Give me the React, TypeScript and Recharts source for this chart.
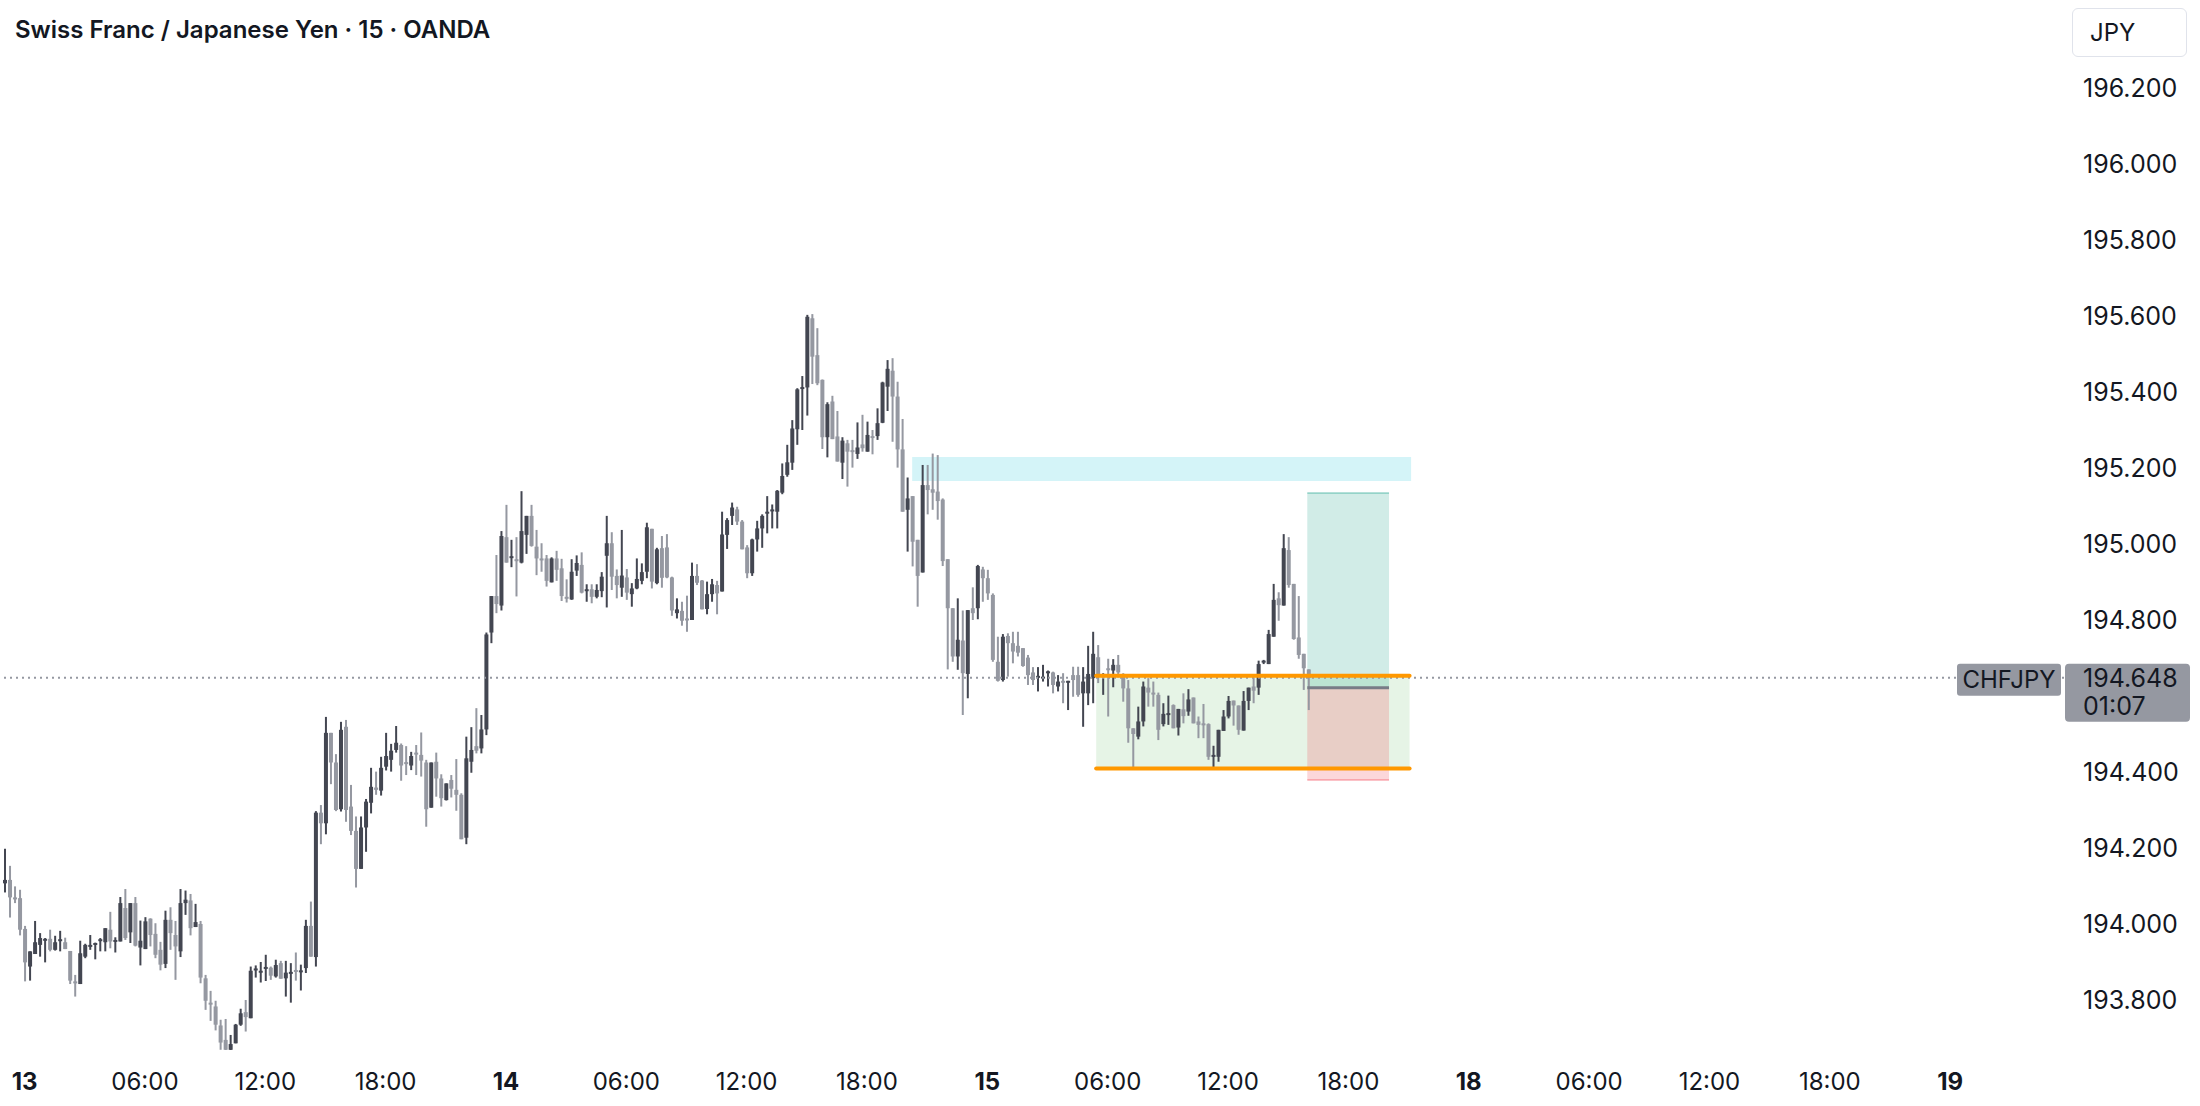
import React from "react";
import { ComposedChart, Bar, XAxis, YAxis, ReferenceArea, ReferenceLine } from "recharts";

// 15 min bars, t = 0 is 13 00:00, first visible bar is t = -4
const FIRST_BAR = -4;

const opens = [
  194.107, 194.116, 194.070, 194.068, 193.987, 193.888, 193.921, 193.945, 193.958, 193.961,
  193.932, 193.957, 193.952, 193.929, 193.849, 193.842, 193.914, 193.942, 193.946, 193.957,
  193.952, 193.985, 193.954, 193.954, 194.042, 193.978, 194.055, 193.938, 193.934, 194.014,
  193.974, 193.932, 193.895, 194.011, 193.971, 193.928, 194.055, 194.062, 193.992, 194.000,
  193.857, 193.793, 193.783, 193.733, 193.695, 193.669, 193.686, 193.735, 193.768, 193.752,
  193.880, 193.873, 193.884, 193.885, 193.862, 193.897, 193.857, 193.870, 193.879, 193.875,
  193.884, 193.995, 193.913, 194.293, 194.265, 194.503, 194.425, 194.302, 194.519, 194.309,
  194.245, 194.145, 194.254, 194.319, 194.359, 194.351, 194.414, 194.432, 194.458, 194.471,
  194.426, 194.417, 194.451, 194.445, 194.425, 194.306, 194.427, 194.383, 194.326, 194.379,
  194.353, 194.340, 194.227, 194.427, 194.468, 194.462, 194.512, 194.767, 194.863, 194.838,
  195.018, 194.965, 194.960, 194.951, 195.024, 195.074, 194.993, 194.962, 194.962, 194.899,
  194.962, 194.936, 194.861, 194.854, 194.930, 194.945, 194.877, 194.881, 194.861, 194.876,
  194.969, 195.002, 194.916, 194.885, 194.912, 194.868, 194.883, 194.903, 194.927, 195.040,
  194.897, 194.989, 194.991, 194.912, 194.818, 194.824, 194.804, 194.800, 194.916, 194.904,
  194.829, 194.868, 194.892, 194.875, 195.024, 195.074, 195.091, 195.059, 194.991, 194.923,
  195.012, 195.041, 195.081, 195.087, 195.085, 195.135, 195.182, 195.214, 195.302, 195.409,
  195.412, 195.594, 195.497, 195.432, 195.281, 195.375, 195.283, 195.214, 195.265, 195.247,
  195.237, 195.262, 195.243, 195.284, 195.284, 195.319, 195.414, 195.456, 195.388, 195.249,
  195.090, 195.126, 195.011, 194.925, 195.155, 195.144, 195.138, 195.117, 194.960, 194.831,
  194.704, 194.746, 194.658, 194.831, 194.831, 194.933, 194.910, 194.866, 194.690, 194.642,
  194.758, 194.739, 194.732, 194.726, 194.701, 194.662, 194.649, 194.648, 194.662, 194.662,
  194.625, 194.640, 194.637, 194.655, 194.655, 194.607, 194.607, 194.647, 194.702, 194.650,
  194.673, 194.667, 194.682, 194.655, 194.620, 194.515, 194.493, 194.533, 194.622, 194.609,
  194.603, 194.526, 194.553, 194.576, 194.517, 194.565, 194.559, 194.596, 194.533, 194.528,
  194.526, 194.440, 194.440, 194.508, 194.546, 194.588, 194.575, 194.509, 194.587, 194.625,
  194.622, 194.690, 194.684, 194.756, 194.857, 194.838, 194.984, 194.895, 194.754, 194.711,
  194.670,
];

const highs = [
  194.198, 194.153, 194.099, 194.090, 193.995, 193.928, 194.008, 193.976, 193.963, 193.985,
  193.969, 193.982, 193.964, 193.929, 193.866, 193.956, 193.948, 193.971, 193.951, 193.963,
  193.989, 194.032, 193.965, 194.071, 194.092, 194.055, 194.071, 194.009, 194.018, 194.015,
  194.002, 193.953, 194.035, 194.044, 194.008, 194.092, 194.088, 194.079, 194.053, 194.008,
  193.866, 193.824, 193.798, 193.748, 193.750, 193.708, 193.737, 193.777, 193.800, 193.888,
  193.891, 193.900, 193.919, 193.888, 193.906, 193.903, 193.903, 193.897, 193.925, 193.893,
  194.011, 194.059, 194.297, 194.313, 194.545, 194.503, 194.447, 194.532, 194.537, 194.366,
  194.283, 194.283, 194.329, 194.411, 194.401, 194.440, 194.503, 194.474, 194.521, 194.475,
  194.468, 194.453, 194.471, 194.504, 194.432, 194.425, 194.451, 194.394, 194.370, 194.392,
  194.434, 194.344, 194.493, 194.518, 194.568, 194.550, 194.767, 194.863, 194.971, 195.034,
  195.103, 195.011, 195.018, 195.139, 195.074, 195.103, 195.037, 195.002, 194.971, 194.965,
  194.982, 194.961, 194.907, 194.960, 194.970, 194.978, 194.894, 194.894, 194.894, 194.926,
  195.074, 195.031, 194.933, 195.037, 194.934, 194.897, 194.962, 194.949, 195.056, 195.040,
  194.990, 195.021, 195.026, 194.914, 194.857, 194.848, 194.864, 194.951, 194.947, 194.905,
  194.901, 194.908, 194.903, 195.085, 195.068, 195.109, 195.098, 195.063, 194.997, 195.014,
  195.061, 195.078, 195.126, 195.104, 195.142, 195.212, 195.261, 195.326, 195.410, 195.442,
  195.603, 195.605, 195.568, 195.433, 195.373, 195.390, 195.350, 195.281, 195.274, 195.274,
  195.320, 195.340, 195.322, 195.300, 195.357, 195.427, 195.484, 195.489, 195.427, 195.329,
  195.175, 195.126, 195.011, 195.208, 195.208, 195.238, 195.234, 195.120, 194.960, 194.831,
  194.857, 194.825, 194.826, 194.886, 194.945, 194.940, 194.932, 194.870, 194.756, 194.763,
  194.765, 194.769, 194.769, 194.726, 194.708, 194.676, 194.676, 194.682, 194.667, 194.664,
  194.655, 194.660, 194.640, 194.677, 194.677, 194.676, 194.732, 194.769, 194.734, 194.660,
  194.698, 194.697, 194.708, 194.660, 194.642, 194.515, 194.572, 194.638, 194.647, 194.638,
  194.609, 194.581, 194.601, 194.578, 194.566, 194.607, 194.618, 194.596, 194.546, 194.579,
  194.528, 194.469, 194.511, 194.563, 194.600, 194.588, 194.575, 194.613, 194.622, 194.649,
  194.693, 194.695, 194.774, 194.895, 194.873, 195.026, 195.018, 194.895, 194.863, 194.711,
  194.670,
];

const lows = [
  194.083, 194.017, 194.055, 193.970, 193.849, 193.851, 193.921, 193.914, 193.899, 193.928,
  193.930, 193.928, 193.934, 193.842, 193.809, 193.842, 193.910, 193.932, 193.907, 193.928,
  193.928, 193.936, 193.925, 193.954, 193.958, 193.950, 193.941, 193.891, 193.934, 193.941,
  193.910, 193.878, 193.884, 193.932, 193.853, 193.913, 194.024, 193.970, 193.992, 193.844,
  193.774, 193.745, 193.720, 193.669, 193.665, 193.665, 193.686, 193.732, 193.717, 193.752,
  193.859, 193.846, 193.850, 193.853, 193.859, 193.856, 193.809, 193.793, 193.851, 193.825,
  193.871, 193.914, 193.888, 194.210, 194.236, 194.368, 194.297, 194.296, 194.269, 194.234,
  194.096, 194.145, 194.190, 194.291, 194.340, 194.338, 194.404, 194.401, 194.451, 194.377,
  194.392, 194.405, 194.392, 194.388, 194.256, 194.306, 194.335, 194.309, 194.325, 194.333,
  194.298, 194.223, 194.210, 194.398, 194.449, 194.449, 194.497, 194.739, 194.818, 194.825,
  194.951, 194.939, 194.862, 194.949, 194.974, 194.993, 194.918, 194.927, 194.888, 194.899,
  194.903, 194.850, 194.846, 194.853, 194.916, 194.870, 194.848, 194.844, 194.857, 194.860,
  194.833, 194.879, 194.857, 194.861, 194.853, 194.835, 194.881, 194.894, 194.910, 194.883,
  194.894, 194.885, 194.910, 194.811, 194.804, 194.785, 194.769, 194.800, 194.892, 194.828,
  194.815, 194.848, 194.815, 194.875, 194.987, 195.050, 195.050, 194.986, 194.910, 194.916,
  194.980, 194.990, 195.028, 195.041, 195.041, 195.131, 195.177, 195.195, 195.261, 195.300,
  195.338, 195.421, 195.418, 195.250, 195.228, 195.276, 195.217, 195.171, 195.151, 195.201,
  195.224, 195.243, 195.243, 195.236, 195.274, 195.318, 195.350, 195.269, 195.201, 195.085,
  194.980, 194.941, 194.835, 194.925, 195.078, 195.090, 195.064, 194.942, 194.670, 194.690,
  194.669, 194.550, 194.594, 194.800, 194.802, 194.848, 194.853, 194.690, 194.638, 194.638,
  194.651, 194.686, 194.704, 194.677, 194.629, 194.629, 194.612, 194.638, 194.625, 194.607,
  194.612, 194.581, 194.563, 194.598, 194.598, 194.519, 194.576, 194.581, 194.634, 194.603,
  194.546, 194.623, 194.649, 194.585, 194.477, 194.410, 194.486, 194.520, 194.572, 194.572,
  194.484, 194.520, 194.524, 194.515, 194.496, 194.528, 194.548, 194.528, 194.489, 194.489,
  194.432, 194.408, 194.427, 194.508, 194.541, 194.522, 194.498, 194.509, 194.563, 194.581,
  194.603, 194.684, 194.684, 194.756, 194.798, 194.838, 194.885, 194.748, 194.698, 194.616,
  194.563,
];

const closes = [
  194.116, 194.070, 194.068, 193.985, 193.899, 193.928, 193.952, 193.963, 193.961, 193.932,
  193.952, 193.960, 193.934, 193.851, 193.844, 193.923, 193.945, 193.945, 193.950, 193.960,
  193.989, 193.954, 193.958, 194.055, 193.963, 194.055, 193.943, 193.956, 194.007, 193.971,
  193.919, 193.893, 194.011, 193.976, 193.941, 194.055, 194.064, 193.989, 194.005, 193.859,
  193.798, 193.790, 193.735, 193.688, 193.669, 193.684, 193.735, 193.765, 193.755, 193.877,
  193.883, 193.877, 193.887, 193.864, 193.892, 193.856, 193.872, 193.874, 193.876, 193.878,
  193.995, 193.914, 194.293, 194.265, 194.503, 194.425, 194.300, 194.511, 194.300, 194.245,
  194.145, 194.254, 194.322, 194.361, 194.353, 194.411, 194.442, 194.456, 194.477, 194.417,
  194.423, 194.442, 194.447, 194.430, 194.302, 194.425, 194.383, 194.331, 194.370, 194.356,
  194.340, 194.223, 194.436, 194.458, 194.456, 194.512, 194.762, 194.863, 194.842, 195.021,
  194.951, 194.968, 194.956, 195.034, 195.074, 194.995, 194.962, 194.958, 194.903, 194.962,
  194.932, 194.863, 194.857, 194.927, 194.950, 194.872, 194.881, 194.861, 194.879, 194.914,
  195.002, 194.914, 194.892, 194.917, 194.872, 194.883, 194.908, 194.926, 195.044, 194.901,
  194.986, 194.911, 194.912, 194.825, 194.828, 194.798, 194.800, 194.916, 194.898, 194.828,
  194.868, 194.894, 194.870, 195.025, 195.063, 195.096, 195.059, 194.986, 194.923, 195.012,
  195.041, 195.074, 195.085, 195.091, 195.140, 195.179, 195.215, 195.304, 195.407, 195.413,
  195.598, 195.493, 195.423, 195.281, 195.368, 195.276, 195.217, 195.272, 195.243, 195.243,
  195.254, 195.252, 195.287, 195.281, 195.318, 195.425, 195.461, 195.388, 195.249, 195.085,
  195.120, 195.006, 194.916, 195.155, 195.142, 195.135, 195.113, 194.955, 194.831, 194.704,
  194.748, 194.660, 194.826, 194.818, 194.942, 194.910, 194.870, 194.695, 194.640, 194.756,
  194.739, 194.717, 194.714, 194.679, 194.655, 194.642, 194.653, 194.651, 194.665, 194.629,
  194.638, 194.637, 194.640, 194.642, 194.603, 194.638, 194.658, 194.711, 194.651, 194.655,
  194.668, 194.682, 194.662, 194.620, 194.515, 194.500, 194.533, 194.625, 194.609, 194.607,
  194.511, 194.553, 194.555, 194.515, 194.566, 194.547, 194.591, 194.528, 194.524, 194.526,
  194.440, 194.445, 194.511, 194.546, 194.587, 194.575, 194.511, 194.587, 194.622, 194.614,
  194.684, 194.693, 194.763, 194.853, 194.839, 194.989, 194.892, 194.750, 194.708, 194.673,
  194.648,
];

const xTicks = [0, 24, 48, 72, 96, 120, 144, 168, 192, 216, 240, 264, 288, 312, 336, 360, 384];
const xTickLabels = [
  "13", "06:00", "12:00", "18:00", "14", "06:00", "12:00", "18:00",
  "15", "06:00", "12:00", "18:00", "18", "06:00", "12:00", "18:00", "19",
];
const dayTicks = [0, 96, 192, 288, 384];
// 194.600 is hidden behind the last price tag
const yTicks = [193.8, 194.0, 194.2, 194.4, 194.8, 195.0, 195.2, 195.4, 195.6, 195.8, 196.0, 196.2];

const symbol = "CHFJPY";
const lastPrice = 194.648;
const countdown = "01:07";

// drawings, in bar / price units
const supplyZone = { t1: 177, t2: 276.5, lo: 195.166, hi: 195.229 };
const rangeBox = { t1: 213.7, t2: 276.2, lo: 194.409, hi: 194.653 };
const longPos = { t1: 255.8, t2: 272.1, target: 195.134, entry: 194.622, stop: 194.379 };

const UP = "#434651";
const DOWN = "#9598a1";
const TEXT = "#131722";
const FONT = "Inter, 'Noto Sans', sans-serif";

const candles = opens.map((o, i) => ({
  t: FIRST_BAR + i,
  o,
  h: highs[i],
  l: lows[i],
  c: closes[i],
}));

const Candle = (props: any) => {
  const { x, y, width, height, payload } = props;
  if (x == null || !payload) return null;
  const { o, h, l, c } = payload;
  const color = c >= o ? UP : DOWN;
  const top = height >= 0 ? y : y + height;
  const span = Math.abs(height);
  const k = h - l > 0 ? span / (h - l) : 0;
  const cx = x + width / 2;
  const bTop = top + (h - Math.max(o, c)) * k;
  const bBot = top + (h - Math.min(o, c)) * k;
  return (
    <g>
      <rect x={cx - 1} y={top} width={2} height={Math.max(span, 1)} fill={color} />
      <rect x={cx - 2} y={bTop} width={4} height={Math.max(bBot - bTop, 2)} fill={color} />
    </g>
  );
};

const XTick = (props: any) => {
  const { x, y, payload } = props;
  const idx = xTicks.indexOf(payload.value);
  const bold = dayTicks.includes(payload.value);
  return (
    <text x={x} y={y + 38} textAnchor="middle" fill={TEXT} fontSize={24}
      fontWeight={bold ? 700 : 400} fontFamily={FONT}>
      {xTickLabels[idx]}
    </text>
  );
};

const PriceTags = (props: any) => {
  const vb = props.viewBox;
  if (!vb) return null;
  const right = vb.x + vb.width;
  const y = vb.y;
  return (
    <g fontFamily={FONT}>
      <rect x={right - 113} y={y - 14} width={104} height={32} rx={3} fill="#9598a1" />
      <text x={right - 61} y={y + 10} textAnchor="middle" fill={TEXT} fontSize={24}>{symbol}</text>
      <rect x={right - 5} y={y - 14} width={125} height={58} rx={4} fill="#9598a1" />
      <text x={right + 13} y={y + 9} fill={TEXT} fontSize={25}>{lastPrice.toFixed(3)}</text>
      <text x={right + 13} y={y + 37} fill={TEXT} fontSize={25}>{countdown}</text>
    </g>
  );
};

export default function App() {
  return (
    <div style={{ position: "absolute", left: 0, top: 0, width: 2200, height: 1106, background: "#fff", fontFamily: FONT }}>
      <ComposedChart width={2200} height={1106} data={candles} margin={{ top: 0, right: 0, left: 0, bottom: 0 }}>
        <XAxis
          type="number"
          dataKey="t"
          domain={[-4.9, 407.9]}
          allowDataOverflow
          ticks={xTicks}
          interval={0}
          height={56}
          axisLine={false}
          tickLine={false}
          tickSize={0}
          tick={<XTick />}
        />
        <YAxis
          orientation="right"
          width={130}
          domain={[193.6684, 196.4316]}
          allowDataOverflow
          ticks={yTicks}
          interval={0}
          axisLine={false}
          tickLine={false}
          tickSize={0}
          tickMargin={13}
          tickFormatter={(v: number) => v.toFixed(3)}
          tick={{ fill: TEXT, fontSize: 25, fontFamily: FONT }}
        />
        <ReferenceLine
          y={lastPrice}
          stroke="#9598a1"
          strokeWidth={2}
          strokeDasharray="2 4"
          label={<PriceTags />}
        />
        <Bar dataKey={(d: any) => [d.l, d.h]} barSize={4} shape={<Candle />} isAnimationActive={false} />
        <ReferenceArea x1={supplyZone.t1} x2={supplyZone.t2} y1={supplyZone.lo} y2={supplyZone.hi}
          fill="#00bcd4" fillOpacity={0.17} stroke="none" />
        <ReferenceArea x1={rangeBox.t1} x2={rangeBox.t2} y1={rangeBox.lo} y2={rangeBox.hi}
          fill="#4caf50" fillOpacity={0.14} stroke="none" />
        <ReferenceArea x1={longPos.t1} x2={longPos.t2} y1={longPos.entry} y2={longPos.target}
          fill="#089981" fillOpacity={0.19} stroke="none" />
        <ReferenceArea x1={longPos.t1} x2={longPos.t2} y1={longPos.stop} y2={longPos.entry}
          fill="#f23645" fillOpacity={0.2} stroke="none" />
        <ReferenceLine segment={[{ x: longPos.t1, y: longPos.target }, { x: longPos.t2, y: longPos.target }]}
          stroke="#089981" strokeOpacity={0.3} strokeWidth={2} />
        <ReferenceLine segment={[{ x: longPos.t1, y: longPos.stop }, { x: longPos.t2, y: longPos.stop }]}
          stroke="#f23645" strokeOpacity={0.3} strokeWidth={2} />
        <ReferenceLine segment={[{ x: rangeBox.t1, y: rangeBox.hi }, { x: rangeBox.t2, y: rangeBox.hi }]}
          stroke="#ff9800" strokeWidth={4} strokeLinecap="round" />
        <ReferenceLine segment={[{ x: rangeBox.t1, y: rangeBox.lo }, { x: rangeBox.t2, y: rangeBox.lo }]}
          stroke="#ff9800" strokeWidth={4} strokeLinecap="round" />
        <ReferenceLine segment={[{ x: longPos.t1, y: longPos.entry }, { x: longPos.t2, y: longPos.entry }]}
          stroke="#787b86" strokeWidth={3} />
      </ComposedChart>
      <div style={{ position: "absolute", left: 15, top: 15, fontSize: 24, fontWeight: 600, color: TEXT, whiteSpace: "nowrap" }}>
        Swiss Franc / Japanese Yen · 15 · OANDA
      </div>
      <div style={{
        position: "absolute", left: 2072, top: 8, width: 115, height: 49, border: "1px solid #e0e3eb",
        borderRadius: 6, boxSizing: "border-box", fontSize: 24, color: TEXT, lineHeight: "47px", paddingLeft: 17,
      }}>
        JPY
      </div>
    </div>
  );
}
